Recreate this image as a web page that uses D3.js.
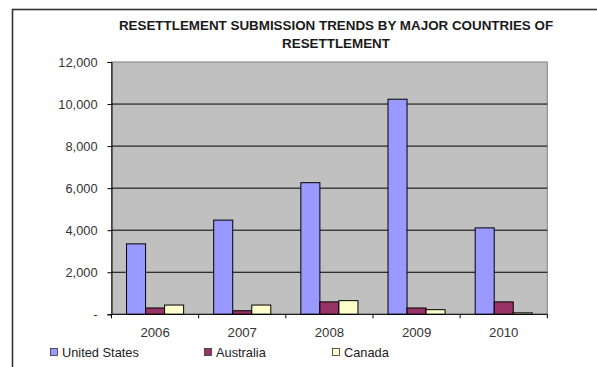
<!DOCTYPE html>
<html><head><meta charset="utf-8">
<script src="https://cdn.jsdelivr.net/npm/d3@7"></script>
<style>body{margin:0;background:#fff}svg{display:block}text{font-family:Arial,"Liberation Sans",sans-serif}</style>
</head><body>
<svg id="c" width="597" height="367"></svg>
<script>
const years = ["2006","2007","2008","2009","2010"];
const seriesNames = ["United States","Australia","Canada"];
const unitedStates = [3350, 4480, 6260, 10230, 4110];
const australia = [300, 170, 590, 300, 590];
const canada = [440, 440, 650, 220, 70];
const yTicks = [0, 2000, 4000, 6000, 8000, 10000, 12000];
const colors = ["#9999FF", "#993366", "#FFFFCC"];
const titleLines = ["RESETTLEMENT SUBMISSION TRENDS BY MAJOR COUNTRIES OF", "RESETTLEMENT"];

const seriesData = [unitedStates, australia, canada];
const svg = d3.select("#c");
const L = 111.5, R = 547.3, T = 62, B = 314.3;

// outer frame
svg.append("rect").attr("x", 12.5).attr("y", 9.5).attr("width", 620).attr("height", 420)
  .attr("fill", "#fff").attr("stroke", "#333").attr("stroke-width", 1.6);

// title
svg.append("g").selectAll("text").data(titleLines).join("text")
  .attr("x", 336).attr("y", (d, i) => 30 + i * 18)
  .attr("text-anchor", "middle").attr("font-weight", "bold").attr("font-size", 13.4)
  .attr("fill", "#1a1a1a").text(d => d);

const x0 = d3.scaleBand().domain(years).range([L, R]).paddingInner(0.345).paddingOuter(0.1725);
const x1 = d3.scaleBand().domain(seriesNames).range([0, x0.bandwidth()]);
const y = d3.scaleLinear().domain([0, 12000]).range([B, T]);

// plot area
svg.append("rect").attr("x", L).attr("y", T).attr("width", R - L).attr("height", B - T)
  .attr("fill", "#C0C0C0").attr("stroke", "#808080").attr("stroke-width", 1);

// gridlines
svg.append("g").selectAll("line").data(yTicks.filter(d => d > 0 && d < 12000)).join("line")
  .attr("x1", L).attr("x2", R).attr("y1", d => y(d)).attr("y2", d => y(d))
  .attr("stroke", "#000").attr("stroke-width", 1);

// bars
const groups = svg.append("g").selectAll("g").data(years).join("g")
  .attr("transform", d => `translate(${x0(d)},0)`);
groups.selectAll("rect").data((d, i) => seriesNames.map((s, j) => ({s, j, v: seriesData[j][i]}))).join("rect")
  .attr("x", d => x1(d.s)).attr("width", x1.bandwidth())
  .attr("y", d => y(d.v)).attr("height", d => B - y(d.v))
  .attr("fill", d => colors[d.j]).attr("stroke", "#000").attr("stroke-width", 1);

// y axis
const yAxis = d3.axisLeft(y).tickValues(yTicks).tickSize(4).tickPadding(10)
  .tickFormat(d => d === 0 ? "-" : d3.format(",")(d));
const ga = svg.append("g").attr("transform", `translate(${L},0)`).call(yAxis);
ga.select(".domain").attr("stroke", "#000");
ga.selectAll("text").attr("font-size", 12.8).attr("fill", "#333").attr("font-family", "Arial");

// x axis
const gx = svg.append("g").attr("transform", `translate(0,${B})`);
gx.append("line").attr("x1", L).attr("x2", R).attr("stroke", "#000");
const bounds = years.map(d => x0(d) - x0.step() * x0.paddingInner() / 2).concat([R]);
gx.selectAll("line.t").data(bounds).join("line").attr("class", "t")
  .attr("x1", d => d).attr("x2", d => d).attr("y1", 0).attr("y2", 4).attr("stroke", "#000");
gx.selectAll("text").data(years).join("text")
  .attr("x", d => x0(d) + x0.bandwidth() / 2).attr("y", 22.7)
  .attr("text-anchor", "middle").attr("font-size", 13.2).attr("fill", "#333").text(d => d);

// legend
const legX = [50, 204, 332];
const lg = svg.append("g").selectAll("g").data(seriesNames).join("g")
  .attr("transform", (d, i) => `translate(${legX[i]},348)`);
lg.append("rect").attr("x", 0.5).attr("y", 0.5).attr("width", 7).attr("height", 7)
  .attr("fill", (d, i) => colors[i]).attr("stroke", "#333").attr("stroke-width", 0.8);
lg.append("text").attr("x", 12).attr("y", 8.5).attr("font-size", 12.8).attr("fill", "#222").text(d => d);
</script>
</body></html>
